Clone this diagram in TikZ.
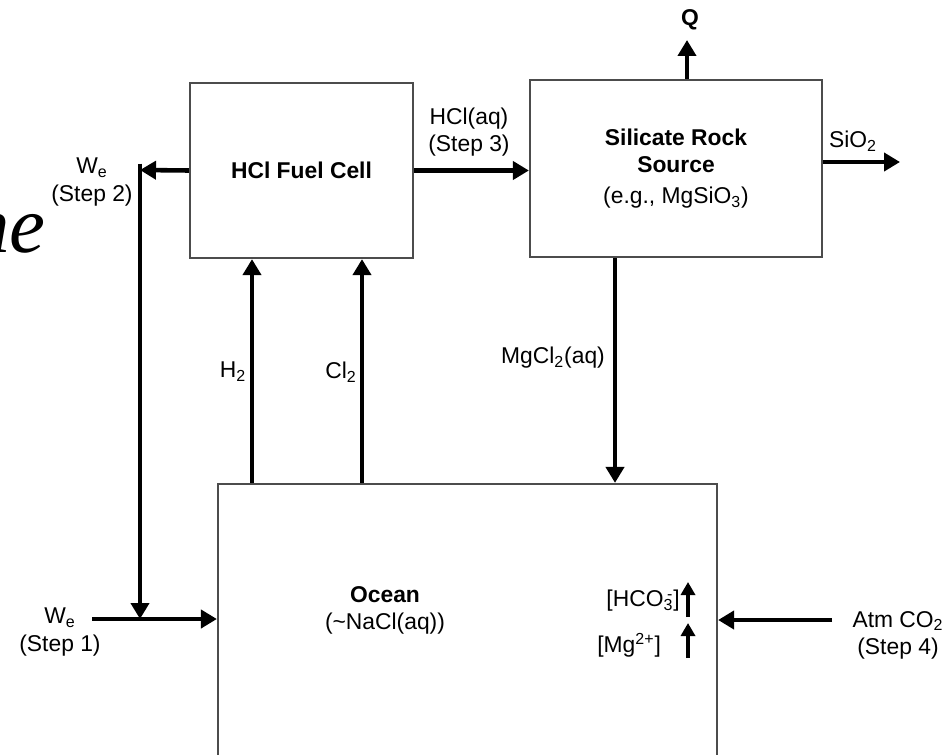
\documentclass[tikz,border=0pt]{standalone}
\usepackage{fontspec}
\setmainfont{Liberation Sans}
\newfontfamily\fragfont{Liberation Serif}
\usetikzlibrary{arrows.meta}
\begin{document}
\begin{tikzpicture}[x=0.02cm,y=-0.02cm,>={Triangle[length=0.32cm,width=0.36cm]},
    box/.style={draw=black!70,line width=1.3pt,inner sep=0pt,font=\fontsize{13}{15.5}\selectfont\bfseries,align=center},
    flow/.style={->,line width=2.6pt},
    rise/.style={-{Triangle[length=0.26cm,width=0.28cm]},line width=2.6pt},
    lbl/.style={font=\fontsize{13}{15.5}\selectfont,align=center,inner sep=0pt}]
        \useasboundingbox (0,0) rectangle (949,754);
        % blocks
        \node[box,minimum width=4.46cm,minimum height=3.5cm] (fc) at (301.5,170.5) {HCl Fuel Cell};
        \node[box,minimum width=5.84cm,minimum height=3.54cm] (sr) at (676,168.5) {Silicate Rock\\Source\\[2pt]{\mdseries (e.g., MgSiO\textsubscript{3})}};
        \node[box,minimum width=9.98cm,minimum height=6.5cm] (ocean) at (467.5,646.5) {};
        \node[lbl] (oc) at (385,610) {\textbf{Ocean}\\(\textasciitilde NaCl(aq))};
        % free ends
        \coordinate (c2) at (140,170);
        \coordinate (we1) at (92,619);
        \coordinate (qend) at (687,40);
        \coordinate (sio) at (900,162);
        \coordinate (co2) at (832,620);
        % flows
        \draw[flow] (fc.east) -- (fc.east -| sr.west);
        \draw[flow] (fc.west) -- (c2);
        \draw[flow] ([yshift=3.6pt]c2) -- (c2 |- we1);
        \draw[flow] (we1) -- (we1 -| ocean.west);
        \draw[flow] (ocean.north -| 252,0) -- (fc.south -| 252,0);
        \draw[flow] (ocean.north -| 362,0) -- (fc.south -| 362,0);
        \draw[flow] (sr.south -| 615,0) -- (ocean.north -| 615,0);
        \draw[flow] (sr.north -| qend) -- (qend);
        \draw[flow] (sr.east |- sio) -- (sio);
        \draw[flow] (co2) -- (co2 -| ocean.east);
        \draw[rise] (688,617) -- (688,582);
        \draw[rise] (688,658) -- (688,623);
        % labels
        \node[lbl] (w2) at (92,182) {W\textsubscript{e}\\(Step 2)};
        \node[lbl] (w1) at (60,632) {W\textsubscript{e}\\(Step 1)};
        \node[lbl] (hcl) at (469,132) {HCl(aq)\\(Step 3)};
        \node[lbl] (q) at (690,20) {\textbf{Q}};
        \node[lbl] (si) at (853,141) {SiO\textsubscript{2}};
        \node[lbl] (h2) at (233,372) {H\textsubscript{2}};
        \node[lbl] (cl2) at (341,372) {Cl\textsubscript{2}};
        \node[lbl] (mg) at (553,358) {MgCl\textsubscript{2}(aq)};
        \node[lbl,anchor=east] (hco) at (680,601) {[HCO\textsubscript{3}\llap{\textsuperscript{-}}]};
        \node[lbl,anchor=west] (mgion) at (597,645) {[Mg\textsuperscript{2+}]};
        \node[lbl] (atm) at (898,635) {Atm CO\textsubscript{2}\\(Step 4)};
        \node[font=\fragfont\itshape\fontsize{46}{46}\selectfont,anchor=base east,inner sep=0pt] (frag) at (46,252) {ne};
\end{tikzpicture}
\end{document}
